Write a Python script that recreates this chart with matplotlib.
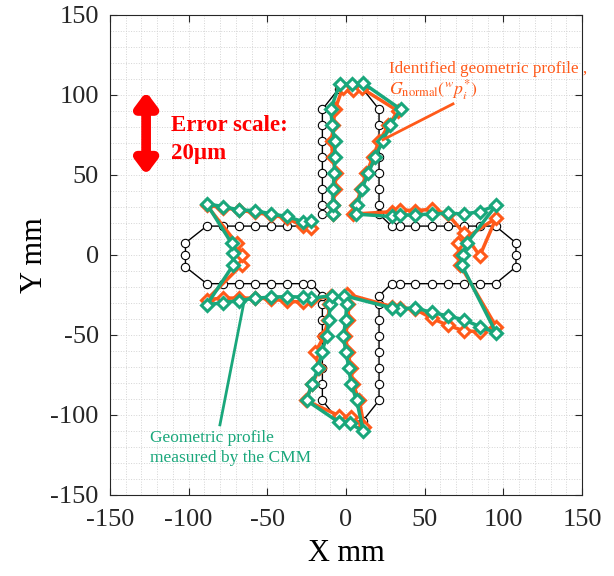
import numpy as np
import matplotlib
matplotlib.use('Agg')
import matplotlib.pyplot as plt
from matplotlib.ticker import MultipleLocator

plt.rcParams['font.family'] = ['Liberation Serif', 'DejaVu Serif']
plt.rcParams['mathtext.fontset'] = 'stix'
plt.rcParams['axes.unicode_minus'] = False

# nominal (black) cross profile, contour order
nom_x = [-15, -15, -15, -15, -15, -15, -15, -15,
         -4.5, 3, 10.5,
         21, 21, 21, 21, 21, 21, 21, 21,
         29, 34, 44, 54.5, 64.5, 75, 85, 95,
         108, 108, 108,
         95, 85, 75, 64.5, 54.5, 44, 34, 29,
         21, 21, 21, 21, 21, 21, 21, 21,
         10.5, 3, -4.5,
         -15, -15, -15, -15, -15, -15, -15, -15,
         -22, -27.5, -37.5, -47.5, -58, -68, -78, -88.5,
         -102, -102, -102,
         -88.5, -78, -68, -58, -47.5, -37.5, -27.5, -22]
nom_y = [25.5, 31, 41, 51, 61, 71, 81, 91,
         104, 104, 104,
         91, 81, 71, 61, 51, 41, 31, 25.5,
         18, 18, 18, 18, 18, 18, 18, 18,
         7.5, 0, -7.5,
         -18, -18, -18, -18, -18, -18, -18, -18,
         -25.5, -31, -41, -51, -61, -71, -81, -91,
         -104, -104, -104,
         -91, -81, -71, -61, -51, -41, -31, -25.5,
         -18, -18, -18, -18, -18, -18, -18, -18,
         -7.5, 0, 7.5,
         18, 18, 18, 18, 18, 18, 18, 18]

# measured by CMM (green)
cmm_x = [-8.5, -8.5, -8.1, -7.6, -7.0, -7.2, -8.7, -9.7,
         -4, 3.7, 10.6,
         34.8, 28, 23.3, 18.4, 14.2, 10, 7.2, 6.4,
         29, 34, 44, 54.5, 64.5, 75, 85, 95.4,
         76.7, 74.6, 73.5,
         95.4, 85, 75, 64.5, 54.5, 44, 34, 29,
         -1.1, 0.4, -0.2, -1.7, 0, 1.9, 3.2, 6.8,
         11, 2.5, -4.3,
         -25, -21.8, -17.6, -15.4, -12.3, -10.8, -10.2, -9.1,
         -22, -27.5, -37.5, -47.5, -58, -68, -78, -88.5,
         -71.6, -72, -72.7,
         -88.5, -78, -68, -58, -47.5, -37.5, -27.5, -22]
cmm_y = [25.5, 31, 41, 51, 61, 71, 81, 91,
         106.8, 107, 107.6,
         91, 81, 71, 61, 51, 41, 31, 25.5,
         24, 25, 25, 25.6, 26, 25.6, 27, 31,
         7.3, 0, -6.3,
         -48.8, -44.8, -40.6, -38.1, -36, -33.1, -33.8, -33.1,
         -25.5, -31, -41, -51, -61, -71, -81, -91,
         -110.4, -105.2, -104.8,
         -91, -81, -71, -61, -51, -41, -31, -25.5,
         -27.1, -26.4, -26.1, -26.4, -27.1, -28.6, -29.8, -31.3,
         -6.3, 1, 7.3,
         31.9, 30.2, 28.1, 27.7, 25.6, 24, 20.8, 21.4]

# identified profile (orange)
idf_x = [-8.5, -8.1, -7, -6.4, -8.5, -9.1, -8.1, -7,
         -2.1, 4.6, 9.9,
         33, 27, 21, 17, 13, 9.5, 6.5, 4.5,
         29, 34, 44, 54.5, 64.5, 75, 85, 95.4,
         71, 72.5, 72.5,
         95.4, 85, 75, 64.5, 54.5, 44, 34, 29,
         0.5, 1.5, 1.5, -0.5, 1.5, 3, 4.5, 8.5,
         11.5, 3, -4.5,
         -25.5, -21.5, -17, -19.5, -14, -11.5, -10.5, -9.8,
         -22, -27.5, -37.5, -47.5, -58, -68, -78, -88.5,
         -66.3, -66.3, -69.5,
         -88.5, -78, -68, -58, -47.5, -37.5, -27.5, -22]
idf_y = [25.5, 31, 41, 51, 61, 71, 81, 91,
         104.2, 103.1, 104.2,
         90, 81, 71, 61, 51, 41, 31, 25.5,
         27, 28.1, 27.7, 28.5, 25.6, 13.5, -0.6, 23,
         7.3, 0, -6.3,
         -44.8, -48, -47.5, -44, -39.6, -34, -33, -32.3,
         -24.5, -31, -41, -51, -61, -71, -81, -91,
         -107.5, -101.5, -100.5,
         -91, -81, -71, -61, -51, -41, -31, -25.5,
         -28.5, -29.5, -29, -27.5, -27, -27, -27, -28,
         -6.3, 0, 7.3,
         31, 29.5, 28, 26.5, 25, 23, 18, 16.5]

green = '#19A77B'
orange = '#FF5A1A'

fig = plt.figure(figsize=(6.14, 5.76), dpi=100)
ax = fig.add_axes([0.179, 0.141, 0.769, 0.833])

ax.plot(nom_x, nom_y, '-o', color='black', lw=1.0, ms=6,
        mfc='white', mec='black', mew=0.8, zorder=3)
ax.plot(idf_x, idf_y, '-D', color=orange, lw=2.5, ms=6.5,
        mfc='white', mec=orange, mew=2.2, zorder=4)
ax.plot(cmm_x, cmm_y, '-D', color=green, lw=2.5, ms=6.5,
        mfc='white', mec=green, mew=2.2, zorder=5)

# annotations
ax.plot([68, 23.5], [94.4, 72], color=orange, lw=2, zorder=6)
ax.plot([-80.1, -64.8], [-106.3, -29.4], color=green, lw=2, zorder=6)
ax.text(27.3, 113.8, 'Identified geometric profile ,', color=orange, fontsize=12.3)
ax.text(27.3, 100.5, r'$G_{\mathrm{normal}}({}^{w}p_i^{*})$', color=orange, fontsize=12.8)
ax.text(-124.6, -116.7, 'Geometric profile', color=green, fontsize=12.5)
ax.text(-124.6, -129.2, 'measured by the CMM', color=green, fontsize=12.5)

# error scale arrow
ax.annotate('', xy=(-127, 50), xytext=(-127, 102),
            arrowprops=dict(arrowstyle='<|-|>,head_length=0.8,head_width=0.6',
                            color='red', lw=7, shrinkA=0, shrinkB=0))
ax.text(-111, 77.5, 'Error scale:', color='red', fontsize=16.5, fontweight='bold')
ax.text(-111, 60, '20\u00b5m', color='red', fontsize=16.5, fontweight='bold')

ax.set_xlim(-150, 150)
ax.set_ylim(-150, 150)
ax.xaxis.set_major_locator(MultipleLocator(50))
ax.yaxis.set_major_locator(MultipleLocator(50))
ax.xaxis.set_minor_locator(MultipleLocator(10))
ax.yaxis.set_minor_locator(MultipleLocator(10))
ax.grid(which='both', ls=':', color='#d4d4d4', lw=0.7)
ax.set_axisbelow(True)
ax.tick_params(which='major', direction='in', top=True, right=True,
               length=5, labelsize=19, colors='#262626')
ax.tick_params(axis='x', which='major', pad=10)
ax.tick_params(axis='y', which='major', pad=8)
ax.tick_params(which='minor', length=0)
for s in ax.spines.values():
    s.set_color('#262626')
ax.set_xlabel('X mm', fontsize=22, labelpad=6)
ax.set_ylabel('Y mm', fontsize=22, labelpad=1)

fig.savefig('out.png', dpi=100)
